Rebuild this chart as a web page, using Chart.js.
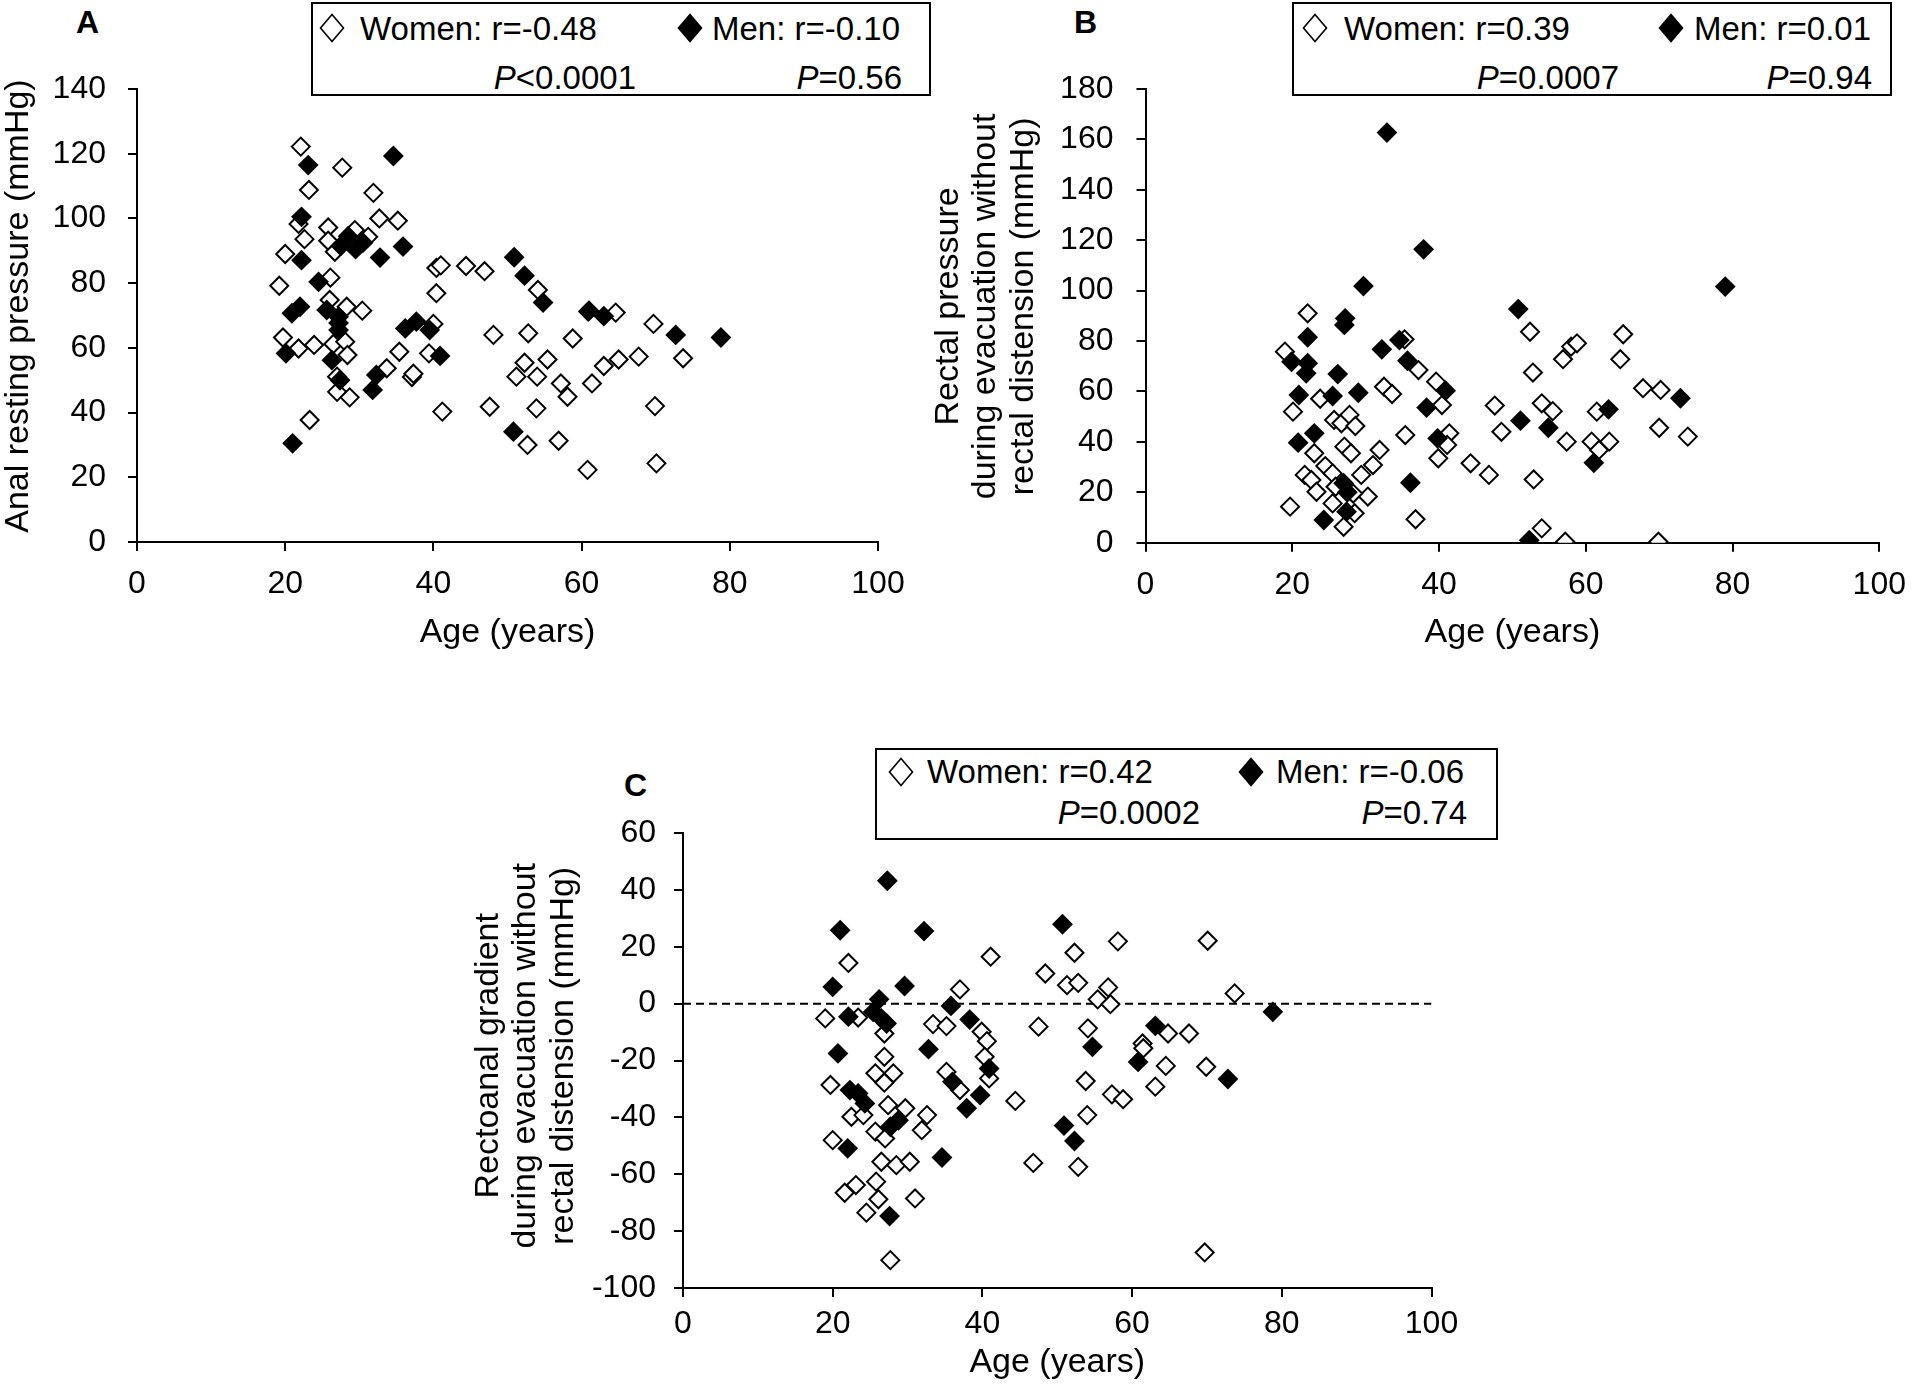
<!DOCTYPE html>
<html>
<head>
<meta charset="utf-8">
<script src="https://cdn.jsdelivr.net/npm/chart.js@4/dist/chart.umd.min.js"></script>
<style>
  html, body { margin:0; padding:0; background:#fff; width:1920px; height:1392px; overflow:hidden; }
  body { position:relative; font-family:'Liberation Sans', Arial, sans-serif; color:#000; }
  canvas { position:absolute; }
  .box { position:absolute; border:2px solid #000; box-sizing:border-box; }
  .t { position:absolute; font-size:33px; line-height:33px; white-space:nowrap; }
  .sym { position:absolute; }
  .letter { position:absolute; font-weight:bold; font-size:32px; line-height:32px; }
</style>
</head>
<body>
<div class="letter" style="left:76px;top:6px;">A</div>
<div class="letter" style="left:1074px;top:6px;">B</div>
<div class="letter" style="left:624px;top:769px;">C</div>

<!-- Legend A -->
<div class="box" style="left:311px;top:2px;width:620px;height:94px;"></div>
<svg class="sym" style="left:319px;top:13px" width="26" height="30"><polygon points="13,1.5 24.5,15 13,28.5 1.5,15" fill="#fff" stroke="#000" stroke-width="1.6"/></svg>
<span class="t" style="left:360px;top:11.5px;">Women: r=-0.48</span>
<svg class="sym" style="left:677px;top:13px" width="26" height="30"><polygon points="13,1.5 24.5,15 13,28.5 1.5,15" fill="#000" stroke="#000" stroke-width="1.6"/></svg>
<span class="t" style="left:712px;top:11.5px;">Men: r=-0.10</span>
<span class="t" style="right:1284px;top:60.5px;"><i>P</i>&lt;0.0001</span>
<span class="t" style="right:1018px;top:60.5px;"><i>P</i>=0.56</span>

<!-- Legend B -->
<div class="box" style="left:1292px;top:2px;width:600px;height:94px;"></div>
<svg class="sym" style="left:1302px;top:13px" width="26" height="30"><polygon points="13,1.5 24.5,15 13,28.5 1.5,15" fill="#fff" stroke="#000" stroke-width="1.6"/></svg>
<span class="t" style="left:1344px;top:11.5px;">Women: r=0.39</span>
<svg class="sym" style="left:1658px;top:13px" width="26" height="30"><polygon points="13,1.5 24.5,15 13,28.5 1.5,15" fill="#000" stroke="#000" stroke-width="1.6"/></svg>
<span class="t" style="left:1694px;top:11.5px;">Men: r=0.01</span>
<span class="t" style="right:301px;top:60.5px;"><i>P</i>=0.0007</span>
<span class="t" style="right:48px;top:60.5px;"><i>P</i>=0.94</span>

<!-- Legend C -->
<div class="box" style="left:875px;top:748px;width:623px;height:92px;"></div>
<svg class="sym" style="left:888px;top:757px" width="26" height="30"><polygon points="13,1.5 24.5,15 13,28.5 1.5,15" fill="#fff" stroke="#000" stroke-width="1.6"/></svg>
<span class="t" style="left:927px;top:755px;">Women: r=0.42</span>
<svg class="sym" style="left:1238px;top:757px" width="26" height="30"><polygon points="13,1.5 24.5,15 13,28.5 1.5,15" fill="#000" stroke="#000" stroke-width="1.6"/></svg>
<span class="t" style="left:1276px;top:755px;">Men: r=-0.06</span>
<span class="t" style="right:720px;top:796px;"><i>P</i>=0.0002</span>
<span class="t" style="right:453px;top:796px;"><i>P</i>=0.74</span>

<canvas id="cA" width="960" height="680" style="left:0px;top:0px;"></canvas>
<canvas id="cB" width="1020" height="680" style="left:900px;top:0px;"></canvas>
<canvas id="cC" width="1100" height="692" style="left:440px;top:700px;"></canvas>

<script>
// ---------- DATA ----------
const ageTicks = [0, 20, 40, 60, 80, 100];
const anaTicks = [0, 20, 40, 60, 80, 100, 120, 140];
const rectalTicks = [0, 20, 40, 60, 80, 100, 120, 140, 160, 180];
const gradientTicks = [-100, -80, -60, -40, -20, 0, 20, 40, 60];

// Panel A: anal resting pressure (age, mmHg)
const analWomen = [
 [22.1,122.2],[27.7,115.7],[23.2,108.8],[31.9,107.9],[32.7,100],[35.2,99.3],[21.8,98.3],[25.8,97.2],
 [22.6,93.6],[25.8,93.1],[29.4,96.4],[31.2,94.3],[20,89],[26.7,89.7],[19.2,79.2],[26.1,81.7],
 [40.4,84.7],[41,85.5],[44.4,85.3],[46.9,83.7],[40.4,76.9],[26,74.8],[28.3,72.7],[30.4,71.5],
 [40,67.4],[48.1,64],[19.7,63.2],[21.8,59.8],[23.9,60.9],[26.5,61.2],[28.1,61.9],[28.4,57.8],
 [35.4,58.8],[39.4,58.3],[33.7,53.7],[37.1,51],[37.3,52],[27,51.1],[27,46.4],[28.7,44.7],
 [41.2,40.3],[47.6,41.8],[23.3,37.7],
 [54.1,77.9],[64.6,70.9],[61,71.5],[69.7,67.4],[52.8,64.5],[58.8,62.9],[52.3,55.4],[55.4,56.4],
 [51.2,51.1],[54,51.1],[57.2,49],[58.1,44.9],[61.4,49],[63,54.4],[65,56.4],[67.7,57.3],[73.7,56.8],
 [69.9,42],[53.9,41.3],[52.7,30],[56.9,31.3],[60.8,22.3],[70.1,24.3]
];
const analMen = [
 [34.6,119.3],[23.1,116.5],[22.2,100.5],[27.5,91.5],[28.5,94.5],[29.5,90.5],[30.5,92.5],[35.9,91.3],
 [32.8,87.9],[22.2,87.1],[24.5,80.4],[20.9,70.7],[22,72.7],[25.6,71.7],[27.2,69.6],[27.2,67.7],
 [27.2,65.5],[36.2,66],[37.7,68.1],[39.5,65.5],[40.9,57.5],[20.1,58.3],[26.3,56.2],[27.4,50],
 [32.3,51.6],[31.8,47],[21,30.5],[50.9,88],[52.3,82.3],[54.8,74],[60.9,71.2],[63,69.8],
 [72.7,64],[78.8,63.2],[50.8,34.1]
];

// Panel B: rectal pressure during evacuation (age, mmHg)
const rectalWomen = [
 [22.1,91],[19,75.8],[37.2,68.5],[39.6,63.9],[40.4,54.6],[32.5,61.9],[33.6,59],[23.8,57.1],
 [20.1,52],[25.7,48.7],[26.7,47.4],[27.8,50.7],[28.6,46.3],[35.4,42.7],[41.4,43.4],[41.1,38.8],
 [39.9,33.5],[44.3,31.5],[46.8,26.9],[23,35.5],[24.5,30.4],[27.1,38.1],[28,35.5],[31.9,36.8],
 [31,30.8],[21.7,26.9],[22.6,24.9],[23.3,20.2],[25.5,27.5],[29.4,26.9],[30.3,18.3],[25.5,15.6],
 [19.7,14.3],[28.5,11.7],[27,6.3],[36.8,9.3],[25.9,22.2],[28.3,19.5],[35.3,80.7],
 [52.4,83.7],[65.1,82.7],[58,77.8],[58.8,79.1],[56.9,72.8],[64.7,72.8],[52.8,67.5],[67.8,61.3],
 [70.2,60.6],[47.6,54.4],[54,55.3],[55.5,52.2],[61.5,52],[48.5,44],[57.4,40.1],[60.8,40.1],
 [61.8,36.8],[63.2,40.1],[70,45.6],[73.9,42.1],[52.9,25.1],[54,5.7],[57.2,0.4],[69.9,0.4]
];
const rectalMen = [
 [32.9,162.7],[37.9,116.4],[29.7,101.8],[27.2,89],[27.1,86.4],[22.1,81.5],[34.6,80.4],[32.2,76.7],
 [35.7,72.2],[19.9,71.8],[22.1,71.2],[21.9,67.2],[26.2,66.9],[40.9,60.3],[29,59.5],[25.5,58.2],
 [20.9,58.6],[38.3,53.6],[23,43.4],[20.8,39.7],[39.8,41.4],[27,23.6],[27.5,20],[36.1,23.8],
 [27.4,12.3],[24.3,9],
 [50.8,92.7],[79,101.6],[72.9,57.3],[63.1,52.9],[51.1,48.4],[54.9,45.6],[61.1,31.7],[52.3,1]
];

// Panel C: rectoanal gradient (age, mmHg)
const gradientWomen = [
 [22.1,14.3],[41.1,16.5],[48.4,10.6],[37,5],[19,-5.2],[23.4,-4.9],[33.4,-7.2],[35.2,-7.9],
 [26.9,-10.5],[39.9,-9.9],[40.6,-13.2],[47.5,-8.1],[26.9,-18.7],[40.3,-18.7],[40.9,-26.3],[35.2,-24],
 [37,-30.4],[25.7,-24.5],[28.1,-24.5],[26.9,-27.8],[19.7,-28.6],[44.4,-34.2],[22.5,-39.8],[24.1,-39.2],
 [27.4,-35.7],[29.7,-36.8],[32.6,-39.2],[31.9,-44.5],[25.7,-45],[27,-47.4],[20,-48],[26.5,-55.6],
 [28.5,-56.8],[30.3,-55.6],[25.8,-62.6],[21.6,-66.5],[23.1,-63.8],[26.1,-68.8],[24.5,-73.5],[31,-68.5],
 [27.7,-90.2],[46.8,-56],
 [58.1,21.9],[70.1,22.1],[52.3,17.9],[51.3,6.5],[52.8,7.3],[56.8,5.7],[55.4,1.5],[57.1,-0.2],
 [73.7,3.6],[54.1,-8.7],[64.8,-10.5],[67.6,-10.5],[61.4,-14],[61.5,-15.7],[64.5,-21.9],[69.9,-22.2],
 [63.1,-29.2],[53.8,-27.2],[57.3,-31.9],[58.8,-33.6],[54,-39.2],[52.8,-57.4],[69.7,-87.5]
];
const gradientMen = [
 [27.3,43.2],[21,25.8],[32.2,25.5],[20,5.9],[29.6,6.2],[26.2,1.5],[35.8,-0.8],[22.1,-4.6],
 [25.4,-2.9],[26.5,-5.2],[27.2,-7],[38.3,-5.6],[20.7,-17.5],[32.8,-16],[40.9,-22.8],[36,-27.5],
 [39.7,-32.2],[37.9,-36.8],[22.3,-30.4],[23.4,-31.6],[24.3,-35.1],[27.7,-43.3],[28.8,-41],[22,-50.9],
 [34.6,-54.1],[27.6,-74.7],
 [50.7,27.9],[63.1,-7.8],[54.7,-15.2],[60.8,-20.5],[72.8,-26.5],[78.8,-2.9],[50.9,-42.9],[52.3,-48.3]
];
const zeroLine = [[0, 0], [100, 0]];

// ---------- CHART HELPERS ----------
const FAMILY = "'Liberation Sans', Arial, sans-serif";
const NB = '\u00A0';
const toXY = arr => arr.map(p => ({x: p[0], y: p[1]}));

function gridCfg() {
  return { display: true, drawOnChartArea: false, drawTicks: true, tickLength: 9,
           tickWidth: 2, tickColor: '#000', color: '#000', lineWidth: 2 };
}
function xScale(height, tickPad, titlePadBottom) {
  return {
    type: 'linear', position: 'bottom', min: 0, max: 100,
    afterBuildTicks: s => { s.ticks = ageTicks.map(v => ({value: v})); },
    afterFit: s => { s.height = height; },
    ticks: { font: {family: FAMILY, size: 32}, color: '#000', padding: tickPad, maxRotation: 0, autoSkip: false },
    grid: gridCfg(),
    border: { display: true, color: '#000', width: 2 },
    title: { display: true, text: 'Age (years)', color: '#000',
             font: {family: FAMILY, size: 34, lineHeight: 1.1}, padding: {top: 0, bottom: titlePadBottom} }
  };
}
function yScale(tickArr, width, tickPad, titleText, titlePadTop) {
  return {
    type: 'linear', position: 'left', min: tickArr[0], max: tickArr[tickArr.length - 1],
    afterBuildTicks: s => { s.ticks = tickArr.map(v => ({value: v})); },
    afterFit: s => { s.width = width; },
    ticks: { font: {family: FAMILY, size: 32}, color: '#000', padding: tickPad, autoSkip: false },
    grid: gridCfg(),
    border: { display: true, color: '#000', width: 2 },
    title: { display: true, text: titleText, color: '#000',
             font: {family: FAMILY, size: 34, lineHeight: 1.1}, padding: {top: titlePadTop, bottom: 0} }
  };
}
function seriesSets(women, men) {
  return [
    { label: 'Men', data: toXY(men), order: 1, pointStyle: 'rectRot', pointRadius: 9, pointHoverRadius: 9,
      pointBackgroundColor: '#000', pointBorderColor: '#000', pointBorderWidth: 2 },
    { label: 'Women', data: toXY(women), order: 2, pointStyle: 'rectRot', pointRadius: 9, pointHoverRadius: 9,
      pointBackgroundColor: '#fff', pointBorderColor: '#000', pointBorderWidth: 2 }
  ];
}
function baseOptions(padding, xs, ys) {
  return {
    responsive: false, animation: false, devicePixelRatio: 1,
    layout: { padding: padding },
    plugins: { legend: { display: false }, tooltip: { enabled: false } },
    events: [],
    scales: { x: xs, y: ys }
  };
}

// Panel A
new Chart(document.getElementById('cA'), {
  type: 'scatter',
  data: { datasets: seriesSets(analWomen, analMen) },
  options: baseOptions({left: 0, top: 89, right: 82, bottom: 0},
    xScale(138, 14, 28.8),
    yScale(anaTicks, 137, 22, NB + NB + 'Anal resting pressure (mmHg)', 0))
});

// Panel B
new Chart(document.getElementById('cB'), {
  type: 'scatter',
  data: { datasets: seriesSets(rectalWomen, rectalMen) },
  options: baseOptions({left: 0, top: 89, right: 38.5, bottom: 0},
    xScale(137.3, 14, 28.8),
    yScale(rectalTicks, 245.5, 23,
      [NB + NB + 'Rectal pressure', NB + NB + 'during evacuation without', NB + NB + 'rectal distension (mmHg)'], 30))
});

// Panel C
const cSets = seriesSets(gradientWomen, gradientMen);
cSets.push({ type: 'line', label: 'zero', data: toXY(zeroLine), order: 3, showLine: true,
  borderColor: '#000', borderWidth: 2, borderDash: [8, 5], pointRadius: 0, fill: false });
new Chart(document.getElementById('cC'), {
  type: 'scatter',
  data: { datasets: cSets },
  options: baseOptions({left: 0, top: 133, right: 108.5, bottom: 0},
    xScale(104, 8, 10.3),
    yScale(gradientTicks, 243, 18,
      [NB + 'Rectoanal gradient', NB + 'during evacuation without', NB + 'rectal distension (mmHg)'], 30))
});
</script>
</body>
</html>
